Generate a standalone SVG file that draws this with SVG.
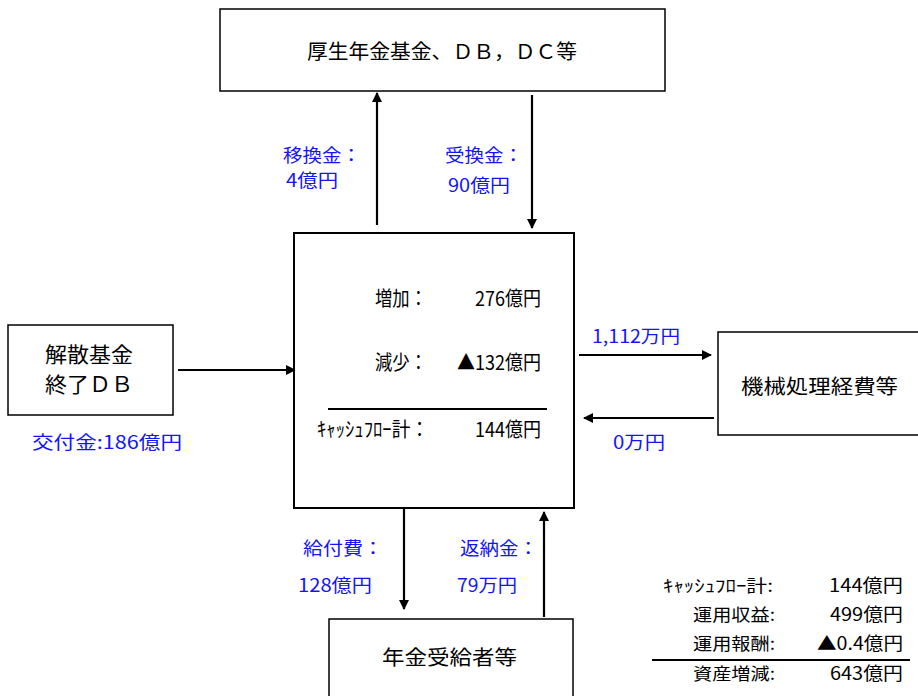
<svg xmlns="http://www.w3.org/2000/svg" width="918" height="696" viewBox="0 0 918 696">
<style>
.box{fill:#fff;stroke:#000;stroke-width:1.5}
.t{font-family:"Noto Sans CJK JP","Liberation Sans",sans-serif;fill:#000}
.b{font-family:"Noto Sans CJK JP","Liberation Sans",sans-serif;fill:#1414f5;font-size:18px}
.ln{stroke:#000;stroke-width:2.2;fill:none}
</style>
<defs>
<marker id="ah" markerWidth="10" markerHeight="10" refX="9" refY="5" orient="auto" markerUnits="userSpaceOnUse">
<path d="M0,0 L10,5 L0,10 z" fill="#000"/>
</marker>
</defs>
<rect width="918" height="696" fill="#fff"/>
<g id="connectors">
<line class="ln" x1="377" y1="225" x2="377" y2="93" marker-end="url(#ah)"/>
<line class="ln" x1="532" y1="95" x2="532" y2="228" marker-end="url(#ah)"/>
<line class="ln" x1="178" y1="370" x2="295" y2="370" marker-end="url(#ah)"/>
<line class="ln" x1="579" y1="355" x2="711" y2="355" marker-end="url(#ah)"/>
<line class="ln" x1="714" y1="418" x2="584" y2="418" marker-end="url(#ah)"/>
<line class="ln" x1="404" y1="509" x2="404" y2="609" marker-end="url(#ah)"/>
<line class="ln" x1="544" y1="617" x2="544" y2="512" marker-end="url(#ah)"/>
<text class="b" x="283" y="162" textLength="78" lengthAdjust="spacingAndGlyphs">移換金：</text>
<text class="b" x="286" y="187" textLength="52" lengthAdjust="spacingAndGlyphs">4億円</text>
<text class="b" x="445" y="162" textLength="78" lengthAdjust="spacingAndGlyphs">受換金：</text>
<text class="b" x="448" y="192" textLength="62" lengthAdjust="spacingAndGlyphs">90億円</text>
<text class="b" x="32" y="449" textLength="150" lengthAdjust="spacingAndGlyphs">交付金:186億円</text>
<text class="b" x="592" y="343" textLength="88" lengthAdjust="spacingAndGlyphs">1,112万円</text>
<text class="b" x="613" y="449" textLength="52" lengthAdjust="spacingAndGlyphs">0万円</text>
<text class="b" x="303" y="555" textLength="80" lengthAdjust="spacingAndGlyphs">給付費：</text>
<text class="b" x="298" y="592" textLength="74" lengthAdjust="spacingAndGlyphs">128億円</text>
<text class="b" x="460" y="555" textLength="78" lengthAdjust="spacingAndGlyphs">返納金：</text>
<text class="b" x="457" y="592" textLength="60" lengthAdjust="spacingAndGlyphs">79万円</text>
</g>
<g id="node-top">
<rect class="box" x="220" y="9" width="445" height="82"/>
<text class="t" x="307" y="59" font-size="20" textLength="270" lengthAdjust="spacingAndGlyphs">厚生年金基金、ＤＢ，ＤＣ等</text>
</g>
<g id="node-center">
<rect class="box" x="294" y="233" width="280" height="275" style="stroke-width:2"/>
<text class="t" x="375" y="306" font-size="20" textLength="52" lengthAdjust="spacingAndGlyphs">増加：</text>
<text class="t" x="475" y="306" font-size="20" textLength="66" lengthAdjust="spacingAndGlyphs">276億円</text>
<text class="t" x="375" y="370" font-size="20" textLength="52" lengthAdjust="spacingAndGlyphs">減少：</text>
<text class="t" x="457" y="370" font-size="20" textLength="84" lengthAdjust="spacingAndGlyphs">▲132億円</text>
<line x1="328" y1="409" x2="547" y2="409" stroke="#000" stroke-width="2"/>
<text class="t" x="317" y="437" font-size="20" textLength="112" lengthAdjust="spacingAndGlyphs">ｷｬｯｼｭﾌﾛｰ計：</text>
<text class="t" x="475" y="437" font-size="20" textLength="66" lengthAdjust="spacingAndGlyphs">144億円</text>
</g>
<g id="node-left">
<rect class="box" x="8" y="325" width="165" height="90"/>
<text class="t" x="45" y="362" font-size="21" textLength="88" lengthAdjust="spacingAndGlyphs">解散基金</text>
<text class="t" x="45" y="392" font-size="21" textLength="88" lengthAdjust="spacingAndGlyphs">終了ＤＢ</text>
</g>
<g id="node-right">
<rect class="box" x="718" y="332" width="210" height="103"/>
<text class="t" x="741" y="394" font-size="20" textLength="157" lengthAdjust="spacingAndGlyphs">機械処理経費等</text>
</g>
<g id="node-bottom">
<rect class="box" x="329" y="619" width="244" height="90"/>
<text class="t" x="382" y="665" font-size="20" textLength="135" lengthAdjust="spacingAndGlyphs">年金受給者等</text>
</g>
<g id="summary">
<text class="t" x="663" y="592" font-size="17" textLength="110" lengthAdjust="spacingAndGlyphs">ｷｬｯｼｭﾌﾛｰ計:</text>
<text class="t" x="829" y="592" font-size="18" textLength="74" lengthAdjust="spacingAndGlyphs">144億円</text>
<text class="t" x="693" y="621" font-size="17" textLength="82" lengthAdjust="spacingAndGlyphs">運用収益:</text>
<text class="t" x="830" y="621" font-size="18" textLength="73" lengthAdjust="spacingAndGlyphs">499億円</text>
<text class="t" x="693" y="650" font-size="17" textLength="82" lengthAdjust="spacingAndGlyphs">運用報酬:</text>
<text class="t" x="817" y="650" font-size="18" textLength="86" lengthAdjust="spacingAndGlyphs">▲0.4億円</text>
<line x1="652" y1="660" x2="910" y2="660" stroke="#000" stroke-width="2"/>
<text class="t" x="693" y="680" font-size="17" textLength="82" lengthAdjust="spacingAndGlyphs">資産増減:</text>
<text class="t" x="830" y="680" font-size="18" textLength="73" lengthAdjust="spacingAndGlyphs">643億円</text>
</g>
</svg>
